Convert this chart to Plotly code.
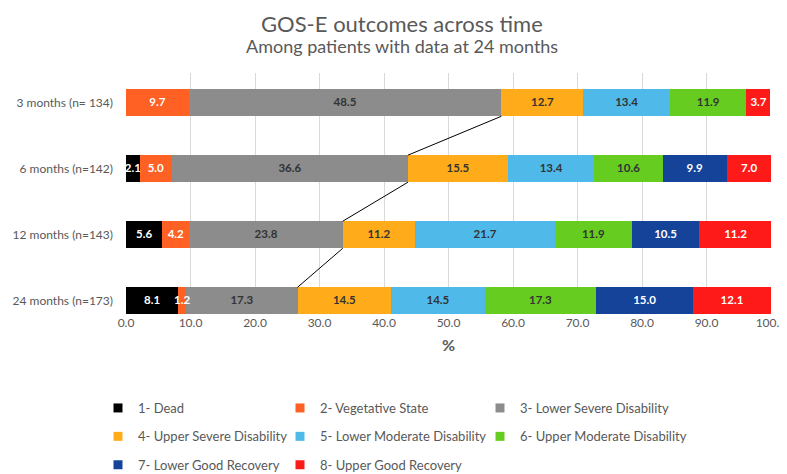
import plotly.graph_objects as go

categories = ["3 months (n= 134)", "6 months (n=142)", "12 months (n=143)", "24 months (n=173)"]
series_names = ["1- Dead", "2- Vegetative State", "3- Lower Severe Disability",
                "4- Upper Severe Disability", "5- Lower Moderate Disability",
                "6- Upper Moderate Disability", "7- Lower Good Recovery", "8- Upper Good Recovery"]
dead = [0, 2.1, 5.6, 8.1]
vegetative = [9.7, 5.0, 4.2, 1.2]
lower_severe = [48.5, 36.6, 23.8, 17.3]
upper_severe = [12.7, 15.5, 11.2, 14.5]
lower_moderate = [13.4, 13.4, 21.7, 14.5]
upper_moderate = [11.9, 10.6, 11.9, 17.3]
lower_good = [0, 9.9, 10.5, 15.0]
upper_good = [3.7, 7.0, 11.2, 12.1]
x_ticks = [0, 10, 20, 30, 40, 50, 60, 70, 80, 90, 100]

series = [dead, vegetative, lower_severe, upper_severe, lower_moderate,
          upper_moderate, lower_good, upper_good]
colors = ["#000000", "#FF6023", "#8C8C8C", "#FFAB1A", "#4FBAEA",
          "#66CC1F", "#15439A", "#FF1A1A"]
text_colors = ["#FFFFFF", "#FFFFFF", "#333333", "#333333", "#333333",
               "#333333", "#FFFFFF", "#FFFFFF"]

FONT = "Lato"
W, H = 787, 474
Y_RANGE = [3.2, -0.45]
L, R, T = 118, 24, 65
PLOT_H = 241
B = H - T - PLOT_H
BAR_W = 0.41
ypos = list(range(len(categories)))


def paper_y(px):
    return (H - B - px) / PLOT_H


fig = go.Figure()
for name, vals, c in zip(series_names, series, colors):
    fig.add_trace(go.Bar(
        x=vals, y=ypos, orientation="h", name=name,
        marker=dict(color=c, line=dict(width=0)),
        width=BAR_W, hoverinfo="skip", showlegend=False,
    ))

# data labels drawn on top of all bars (centre of each segment)
start = [0.0] * len(categories)
for name, vals, tc in zip(series_names, series, text_colors):
    mids = [s + v / 2 for s, v in zip(start, vals)]
    fig.add_trace(go.Scatter(
        x=mids, y=ypos, mode="text",
        text=[f"{v:.1f}" if v > 0 else "" for v in vals],
        textposition="middle center",
        textfont=dict(family=FONT, size=11.5, color=tc, weight="bold"),
        showlegend=False, hoverinfo="skip", cliponaxis=False,
    ))
    start = [s + v for s, v in zip(start, vals)]

# series lines connecting the end of "3- Lower Severe Disability" segments
cum3 = [a + b + c for a, b, c in zip(dead, vegetative, lower_severe)]
for i in range(len(categories) - 1):
    fig.add_trace(go.Scatter(
        x=[cum3[i], cum3[i + 1]],
        y=[ypos[i] + BAR_W / 2, ypos[i + 1] - BAR_W / 2],
        mode="lines", line=dict(color="#000000", width=1),
        showlegend=False, hoverinfo="skip",
    ))

# legend: three columns (Excel-like layout)
legend_cols = [("legend", 90), ("legend2", 272), ("legend3", 472)]
for k, (name, c) in enumerate(zip(series_names, colors)):
    lg = legend_cols[k % 3][0]
    fig.add_trace(go.Scatter(
        x=[None], y=[None], mode="markers", name=name,
        marker=dict(symbol="square", size=9, color=c),
        legend=lg, legendgroup=f"g{k}", showlegend=True, hoverinfo="skip",
    ))

LEGEND_TOP = 385
layout_legends = {}
for lg, px in legend_cols:
    layout_legends[lg] = dict(
        orientation="v", xref="container", x=px / W, xanchor="left",
        yref="container", y=1 - LEGEND_TOP / H, yanchor="top",
        traceorder="grouped", tracegroupgap=8.5,
        font=dict(family=FONT, size=13, color="#595959"), itemwidth=30,
        itemsizing="trace", bgcolor="rgba(0,0,0,0)", borderwidth=0,
    )

fig.update_layout(
    width=W, height=H,
    barmode="stack",
    paper_bgcolor="white", plot_bgcolor="white",
    margin=dict(l=L, r=R, t=T, b=B, autoexpand=False),
    font=dict(family=FONT, color="#595959"),
    xaxis=dict(
        range=[0, 100], tickvals=x_ticks, ticktext=[f"{t:.1f}" for t in x_ticks],
        showgrid=True, gridcolor="#D9D9D9", gridwidth=1, zeroline=False,
        showline=False, ticks="", tickfont=dict(size=12, color="#595959"),
        automargin=False,
        title=dict(text="<b>%</b>", font=dict(size=16, color="#595959"), standoff=10),
    ),
    yaxis=dict(
        range=Y_RANGE, tickvals=ypos, ticktext=categories,
        showgrid=False, zeroline=False, showline=False, ticks="",
        tickfont=dict(size=12, color="#595959"), ticklabelstandoff=12,
        automargin=False,
    ),
    annotations=[
        dict(text="GOS-E outcomes across time", xref="paper", yref="paper",
             x=(W / 2 - L) / (W - L - R), y=paper_y(15), xanchor="center", yanchor="middle",
             showarrow=False, font=dict(family=FONT, size=22, color="#595959")),
        dict(text="Among patients with data at 24 months", xref="paper", yref="paper",
             x=(W / 2 - L) / (W - L - R), y=paper_y(38), xanchor="center", yanchor="middle",
             showarrow=False, font=dict(family=FONT, size=18, color="#595959")),
    ],
    showlegend=True,
    **layout_legends,
)

fig.write_html("out.html")
